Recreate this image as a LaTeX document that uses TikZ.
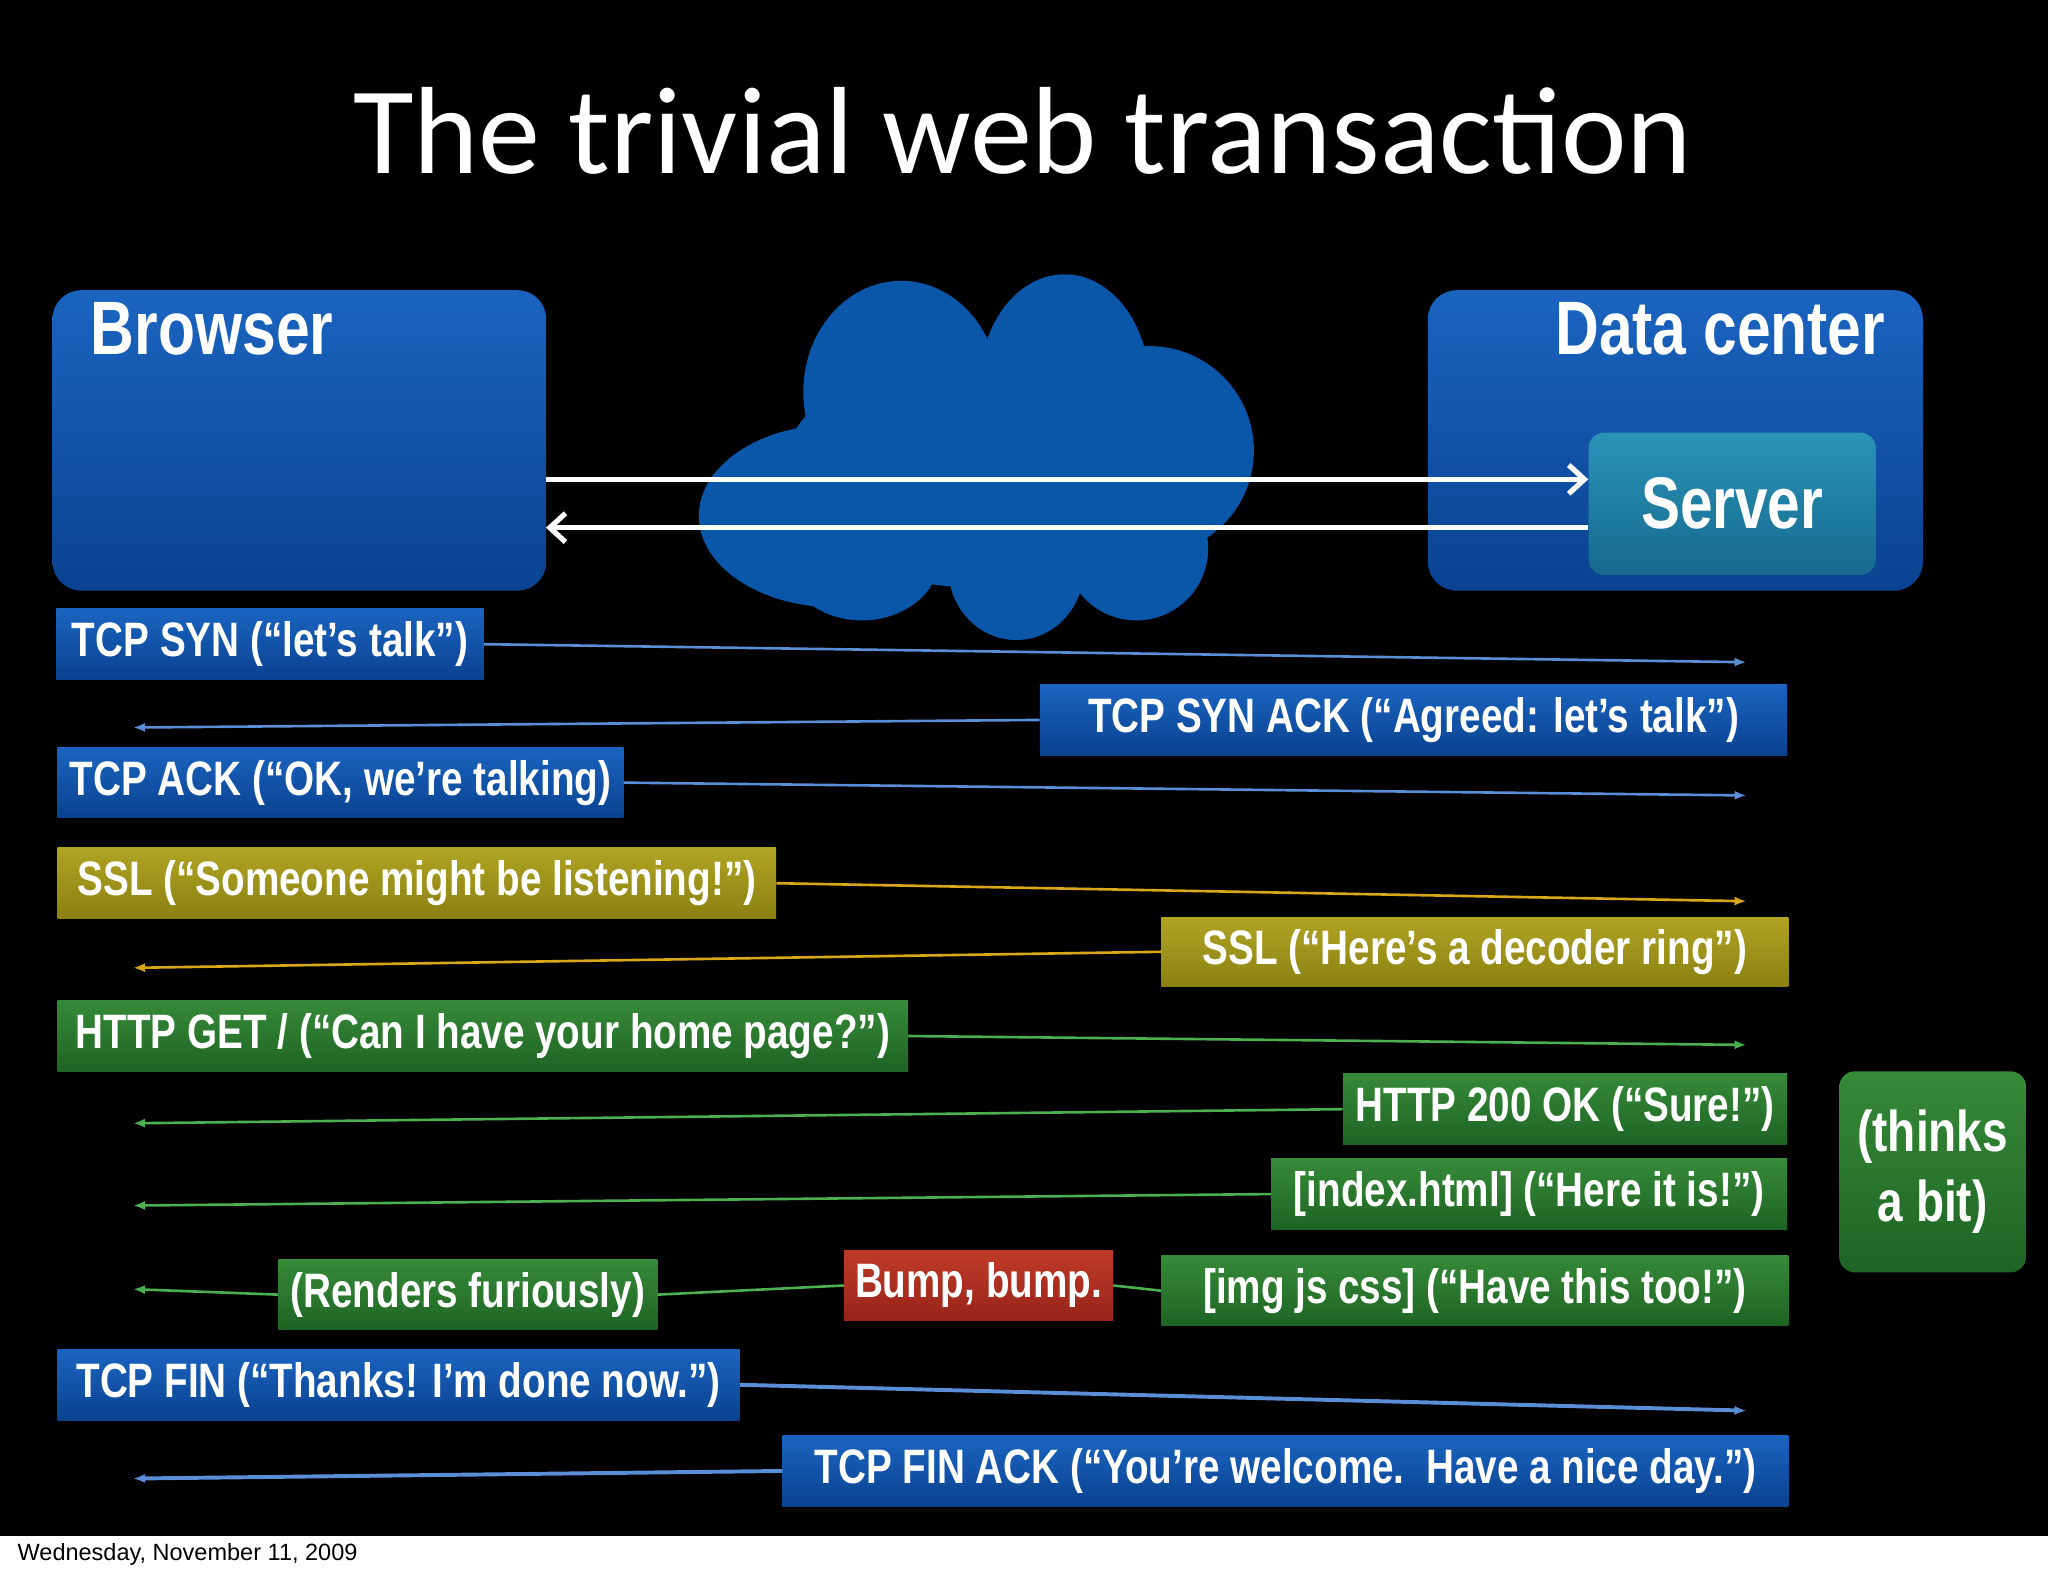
\documentclass[tikz,border=0pt]{standalone}
\usepackage{fontspec}
\setmainfont{Liberation Sans}
\newfontfamily\cond[FakeStretch=0.80]{Liberation Sans}
\newfontfamily\titlefont{Carlito}
\usetikzlibrary{arrows.meta}
\definecolor{bluetop}{HTML}{1A64C0}
\definecolor{bluebot}{HTML}{0A4290}
\definecolor{olivetop}{HTML}{B0A424}
\definecolor{olivebot}{HTML}{8A8010}
\definecolor{greentop}{HTML}{368A38}
\definecolor{greenbot}{HTML}{1E6424}
\definecolor{redtop}{HTML}{C03A28}
\definecolor{redbot}{HTML}{962418}
\definecolor{tealtop}{HTML}{2A93B8}
\definecolor{tealbot}{HTML}{17698E}
\definecolor{lblue}{HTML}{5A8FD8}
\definecolor{lyel}{HTML}{D8A818}
\definecolor{lgreen}{HTML}{4CB050}
\definecolor{cloudc}{HTML}{0A56A8}
\tikzset{
 box/.style={anchor=north west,inner sep=0pt,font=\cond\fontsize{37}{40}\selectfont\bfseries,text=white},
 bluebox/.style={box,top color=bluetop,bottom color=bluebot},
 olivebox/.style={box,top color=olivetop,bottom color=olivebot},
 greenbox/.style={box,top color=greentop,bottom color=greenbot},
 redbox/.style={box,top color=redtop,bottom color=redbot},
 conn/.style={line width=2pt,-{Latex[length=9pt,width=7pt]}},
 bigbox/.style={anchor=north west,rounded corners=22pt,top color=bluetop,bottom color=bluebot,inner sep=0pt},
 wharrow/.style={white,line width=4pt,-{Straight Barb[length=12pt,width=22pt,line width=4pt]}}
}
\newcommand{\msgbox}[7]{\node[#6,minimum width=#4-#2,minimum height=#5-#3] (#1) at (#2,#3) {#7};}
\begin{document}
\begin{tikzpicture}[x=1pt,y=-1pt]
\useasboundingbox (0,0) rectangle (1568,1207);
\fill[white] (0,0) rectangle (1568,1207);
\fill[black] (0,0) rectangle (1568,1176);
\node[text=white,font=\titlefont\fontsize{95}{100}\selectfont] (title) at (783,100) {The trivial web transaction};
% cloud
\fill[cloudc] (640,395) ellipse (105 and 70);
\fill[cloudc] (690,300) ellipse (75 and 85);
\fill[cloudc] (815,295) ellipse (65 and 85);
\fill[cloudc] (880,345) ellipse (80 and 80);
\fill[cloudc] (660,425) ellipse (60 and 50);
\fill[cloudc] (778,435) ellipse (52 and 55);
\fill[cloudc] (870,420) ellipse (55 and 55);
\fill[cloudc] (750,360) ellipse (150 and 90);
\node[bigbox,minimum width=378,minimum height=230] (browser) at (40,222) {};
\node[anchor=north west,text=white,font=\cond\fontsize{58}{62}\selectfont\bfseries] (browsert) at (66,228) {Browser};
\node[bigbox,minimum width=379,minimum height=230] (dc) at (1093,222) {};
\node[anchor=north east,text=white,font=\cond\fontsize{58}{62}\selectfont\bfseries] (dct) at (1447,228) {Data center};
\node[anchor=north west,rounded corners=12pt,top color=tealtop,bottom color=tealbot,minimum width=220,minimum height=109,inner sep=0pt,text=white,font=\cond\fontsize{56}{60}\selectfont\bfseries] (server) at (1216,331) {Server};
\coordinate (b1) at (418,367); \coordinate (s1) at (1216,367);
\coordinate (b2) at (418,404); \coordinate (s2) at (1216,404);
\draw[wharrow] (b1) -- (s1);
\draw[wharrow] (s2) -- (b2);
% messages
\msgbox{m1}{43}{466}{370}{520}{bluebox}{TCP SYN (“let’s talk”)}
\coordinate (e1) at (1337,507); \draw[conn,lblue] (m1.east) -- (e1);
\msgbox{m2}{796}{524}{1368}{578}{bluebox}{TCP SYN ACK (“Agreed: let’s talk”)}
\coordinate (e2) at (102,557); \draw[conn,lblue] (m2.west) -- (e2);
\msgbox{m3}{44}{572}{477}{626}{bluebox}{TCP ACK (“OK, we’re talking)}
\coordinate (e3) at (1337,609); \draw[conn,lblue] (m3.east) -- (e3);
\msgbox{m4}{44}{649}{594}{703}{olivebox}{SSL (“Someone might be listening!”)}
\coordinate (e4) at (1337,690); \draw[conn,lyel] (m4.east) -- (e4);
\msgbox{m5}{889}{702}{1369}{755}{olivebox}{SSL (“Here’s a decoder ring”)}
\coordinate (e5) at (102,741); \draw[conn,lyel] (m5.west) -- (e5);
\msgbox{m6}{44}{766}{695}{820}{greenbox}{HTTP GET / (“Can I have your home page?”)}
\coordinate (e6) at (1337,800); \draw[conn,lgreen] (m6.east) -- (e6);
\msgbox{m7}{1028}{822}{1368}{876}{greenbox}{HTTP 200 OK (“Sure!”)}
\coordinate (e7) at (102,860); \draw[conn,lgreen] (m7.west) -- (e7);
\msgbox{m8}{973}{887}{1368}{941}{greenbox}{[index.html] (“Here it is!”)}
\coordinate (e8) at (102,923); \draw[conn,lgreen] (m8.west) -- (e8);
\msgbox{m9}{889}{961}{1369}{1015}{greenbox}{[img js css] (“Have this too!”)}
\msgbox{bump}{646}{957}{852}{1011}{redbox}{Bump, bump.}
\msgbox{rend}{213}{964}{503}{1018}{greenbox}{(Renders furiously)}
\draw[line width=2pt,lgreen] (m9.west) -- (bump.east);
\draw[line width=2pt,lgreen] (bump.west) -- (rend.east);
\coordinate (e9) at (102,987); \draw[conn,lgreen] (rend.west) -- (e9);
\msgbox{m10}{44}{1033}{566}{1087}{bluebox}{TCP FIN (“Thanks! I’m done now.”)}
\coordinate (e10) at (1337,1080); \draw[conn,lblue,line width=3pt] (m10.east) -- (e10);
\msgbox{m11}{599}{1099}{1369}{1153}{bluebox}{TCP FIN ACK (“You’re welcome.\ \ Have a nice day.”)}
\coordinate (e11) at (102,1132); \draw[conn,lblue,line width=3pt] (m11.west) -- (e11);
\node[anchor=north west,rounded corners=12pt,top color=greentop,bottom color=greenbot,minimum width=143,minimum height=154,inner sep=0pt,align=center,text=white,font=\cond\fontsize{44}{54}\selectfont\bfseries] (think) at (1408,820) {(thinks\\a bit)};
\node[anchor=west,font=\fontsize{18}{20}\selectfont,text=black] (date) at (10,1190) {Wednesday, November 11, 2009};
\end{tikzpicture}
\end{document}
